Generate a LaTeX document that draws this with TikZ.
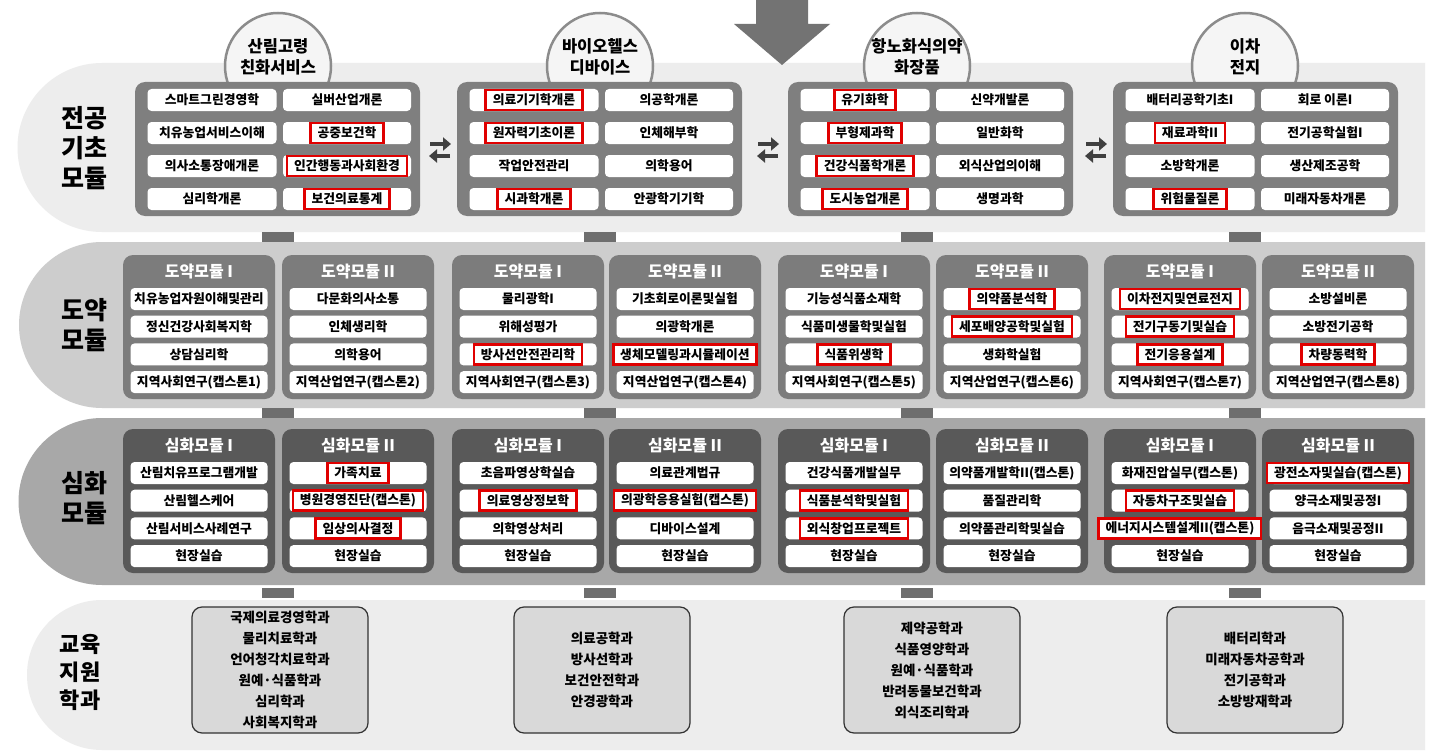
\documentclass[tikz,border=0pt]{standalone}
\usepackage{fontspec}
\setmainfont{Noto Sans CJK KR}
\usetikzlibrary{arrows.meta}
\definecolor{bandA}{HTML}{EDEDED}
\definecolor{bandB}{HTML}{CDCDCD}
\definecolor{bandC}{HTML}{A8A8A8}
\definecolor{modA}{HTML}{7F7F7F}
\definecolor{modB}{HTML}{7C7C7C}
\definecolor{modC}{HTML}{595959}
\definecolor{joint}{HTML}{6E6E6E}
\definecolor{redx}{HTML}{E00000}
\definecolor{deptfill}{HTML}{D9D9D9}
\tikzset{
 cellbox/.style={fill=white,rounded corners=4pt,minimum height=22pt,inner sep=0pt,font=\fontsize{12.8}{14}\selectfont\bfseries},
 redbox/.style={draw=redx,line width=2.6pt,fill=white,minimum height=20pt,inner xsep=7pt,inner ysep=0pt,font=\fontsize{12.8}{14}\selectfont\bfseries},
 modbox/.style={rounded corners=10pt,inner sep=0pt},
 titletxt/.style={text=white,font=\fontsize{16}{18}\selectfont\bfseries},
 deptbox/.style={fill=deptfill,rounded corners=10pt,draw=black!80,line width=1.2pt,inner sep=0pt,minimum width=176pt,minimum height=126pt,align=center,font=\fontsize{13.5}{21}\selectfont\bfseries},
 rowlabel/.style={align=center,font=\fontsize{25}{30}\selectfont\bfseries},
 topcircle/.style={circle,fill=white!96!black,draw=black!45,line width=2.5pt,minimum size=106pt},
 circtxt/.style={align=center,font=\fontsize{16.5}{21}\selectfont\bfseries},
 swaparrow/.style={line width=4pt,draw=black!75,-{Triangle[length=8pt,width=13pt]}},
 jointbox/.style={fill=joint,minimum width=32pt,minimum height=10pt,inner sep=0pt}
}
% row-1 module: #1 name, #2 xleft, #3 list col1, #4 list col2
\newcommand\modone[4]{%
 \node[modbox,fill=modA,minimum width=285pt,minimum height=134pt] (#1) at (#2+142.5,149) {};
 \foreach \f/\t [count=\i] in {#3} {%
  \pgfmathsetmacro\yy{100+33*(\i-1)}
  \ifnum\f=1 \node[cellbox,minimum width=129pt] (#1a\i) at (#2+77,\yy) {};
   \node[redbox] (#1ar\i) at (#2+77,\yy) {\t};
  \else \node[cellbox,minimum width=129pt] (#1a\i) at (#2+77,\yy) {\t};\fi}
 \foreach \f/\t [count=\i] in {#4} {%
  \pgfmathsetmacro\yy{100+33*(\i-1)}
  \ifnum\f=1 \node[cellbox,minimum width=128pt] (#1b\i) at (#2+212,\yy) {};
   \node[redbox] (#1br\i) at (#2+212,\yy) {\t};
  \else \node[cellbox,minimum width=128pt] (#1b\i) at (#2+212,\yy) {\t};\fi}}
% sub module: #1 name, #2 xleft, #3 color, #4 top y, #5 title, #6 list
\newcommand\submod[6]{%
 \node[modbox,fill=#3,minimum width=152pt,minimum height=144pt] (#1) at (#2+76,#4+72) {};
 \node[titletxt] (#1t) at (#2+76,#4+17) {#5};
 \foreach \f/\t [count=\i] in {#6} {%
  \pgfmathsetmacro\yy{#4+44+27.7*(\i-1)}
  \ifnum\f=1 \node[cellbox,minimum width=137pt] (#1c\i) at (#2+76,\yy) {};
   \node[redbox] (#1r\i) at (#2+76,\yy) {\t};
  \else \node[cellbox,minimum width=137pt] (#1c\i) at (#2+76,\yy) {\t};\fi}}
\begin{document}
\begin{tikzpicture}[x=1pt,y=-1pt]
\useasboundingbox (0,0) rectangle (1433,752);
\fill[white] (0,0) rectangle (1433,752);
% bands
\fill[bandA] (1425,63) -- (102,63) arc[start angle=270,end angle=90,radius=84.5] -- (1425,232) -- cycle;
\fill[bandB] (1425,242) -- (102,242) arc[start angle=270,end angle=90,radius=83] -- (1425,408) -- cycle;
\fill[bandC] (1425,418) -- (102,418) arc[start angle=270,end angle=90,radius=83.5] -- (1425,585) -- cycle;
\fill[bandA] (1425,600) -- (102,600) arc[start angle=270,end angle=90,radius=75] -- (1425,750) -- cycle;
% joints
\foreach \jx [count=\k] in {278,600,917,1245}{
 \node[jointbox] (ja\k) at (\jx,237) {};
 \node[jointbox] (jb\k) at (\jx,413) {};
 \node[jointbox] (jc\k) at (\jx,592.5) {};
}
% big arrow
\fill[black!55] (756,0) -- (808,0) -- (808,24) -- (830,24) -- (782,65) -- (734,24) -- (756,24) -- cycle;
% circles
\node[topcircle] (k1) at (278,66) {};
\node[topcircle] (k2) at (600,66) {};
\node[topcircle] (k3) at (917,66) {};
\node[topcircle] (k4) at (1245,66) {};
\node[circtxt] (k1t) at (278,57) {산림고령\\친화서비스};
\node[circtxt] (k2t) at (600,57) {바이오헬스\\디바이스};
\node[circtxt] (k3t) at (917,57) {항노화식의약\\화장품};
\node[circtxt] (k4t) at (1245,57) {이차\\전지};
% row labels
\node[rowlabel] (l1) at (84,148) {전공\\기초\\모듈};
\node[rowlabel] (l2) at (84,325) {도약\\모듈};
\node[rowlabel] (l3) at (84,498) {심화\\모듈};
\node[rowlabel,font=\fontsize{22}{28}\selectfont\bfseries] (l4) at (80,672) {교육\\지원\\학과};
% row 1
\modone{m1}{135}{0/스마트그린경영학,0/치유농업서비스이해,0/의사소통장애개론,0/심리학개론}{0/실버산업개론,1/공중보건학,1/인간행동과사회환경,1/보건의료통계}
\modone{m2}{457}{1/의료기기학개론,1/원자력기초이론,0/작업안전관리,1/시과학개론}{0/의공학개론,0/인체해부학,0/의학용어,0/안광학기기학}
\modone{m3}{788}{1/유기화학,1/부형제과학,1/건강식품학개론,1/도시농업개론}{0/신약개발론,0/일반화학,0/외식산업의이해,0/생명과학}
\modone{m4}{1113}{0/배터리공학기초I,1/재료과학II,0/소방학개론,1/위험물질론}{0/회로 이론I,0/전기공학실험I,0/생산제조공학,0/미래자동차개론}
% swap arrows
\foreach \sx [count=\k] in {440,768,1096}{
 \coordinate (sa\k) at (\sx-10,144); \coordinate (sb\k) at (\sx+11,144);
 \coordinate (sc\k) at (\sx+10,156); \coordinate (sd\k) at (\sx-11,156);
 \draw[swaparrow] (sa\k) -- (sb\k);
 \draw[swaparrow] (sc\k) -- (sd\k);
}
% row 2
\submod{d1}{123}{modB}{255}{도약모듈 I}{0/치유농업자원이해및관리,0/정신건강사회복지학,0/상담심리학,0/지역사회연구(캡스톤1)}
\submod{d2}{282}{modB}{255}{도약모듈 II}{0/다문화의사소통,0/인체생리학,0/의학용어,0/지역산업연구(캡스톤2)}
\submod{d3}{452}{modB}{255}{도약모듈 I}{0/물리광학I,0/위해성평가,1/방사선안전관리학,0/지역사회연구(캡스톤3)}
\submod{d4}{609}{modB}{255}{도약모듈 II}{0/기초회로이론및실험,0/의광학개론,1/생체모델링과시뮬레이션,0/지역산업연구(캡스톤4)}
\submod{d5}{778}{modB}{255}{도약모듈 I}{0/기능성식품소재학,0/식품미생물학및실험,1/식품위생학,0/지역사회연구(캡스톤5)}
\submod{d6}{936}{modB}{255}{도약모듈 II}{1/의약품분석학,1/세포배양공학및실험,0/생화학실험,0/지역산업연구(캡스톤6)}
\submod{d7}{1104}{modB}{255}{도약모듈 I}{1/이차전지및연료전지,1/전기구동기및실습,1/전기응용설계,0/지역사회연구(캡스톤7)}
\submod{d8}{1262}{modB}{255}{도약모듈 II}{0/소방설비론,0/소방전기공학,1/차량동력학,0/지역산업연구(캡스톤8)}
% row 3
\submod{s1}{123}{modC}{429}{심화모듈 I}{0/산림치유프로그램개발,0/산림헬스케어,0/산림서비스사례연구,0/현장실습}
\submod{s2}{282}{modC}{429}{심화모듈 II}{1/가족치료,1/병원경영진단(캡스톤),1/임상의사결정,0/현장실습}
\submod{s3}{452}{modC}{429}{심화모듈 I}{0/초음파영상학실습,1/의료영상정보학,0/의학영상처리,0/현장실습}
\submod{s4}{609}{modC}{429}{심화모듈 II}{0/의료관계법규,1/의광학응용실험(캡스톤),0/디바이스설계,0/현장실습}
\submod{s5}{778}{modC}{429}{심화모듈 I}{0/건강식품개발실무,1/식품분석학및실험,1/외식창업프로젝트,0/현장실습}
\submod{s6}{936}{modC}{429}{심화모듈 II}{0/의약품개발학II(캡스톤),0/품질관리학,0/의약품관리학및실습,0/현장실습}
\submod{s7}{1104}{modC}{429}{심화모듈 I}{0/화재진압실무(캡스톤),1/자동차구조및실습,1/에너지시스템설계II(캡스톤),0/현장실습}
\submod{s8}{1262}{modC}{429}{심화모듈 II}{1/광전소자및실습(캡스톤),0/양극소재및공정I,0/음극소재및공정II,0/현장실습}
% row 4
\node[deptbox] (e1) at (280,670) {국제의료경영학과\\물리치료학과\\언어청각치료학과\\원예·식품학과\\심리학과\\사회복지학과};
\node[deptbox] (e2) at (602,670) {의료공학과\\방사선학과\\보건안전학과\\안경광학과};
\node[deptbox] (e3) at (932,670) {제약공학과\\식품영양학과\\원예·식품학과\\반려동물보건학과\\외식조리학과};
\node[deptbox] (e4) at (1255,670) {배터리학과\\미래자동차공학과\\전기공학과\\소방방재학과};
\end{tikzpicture}
\end{document}
